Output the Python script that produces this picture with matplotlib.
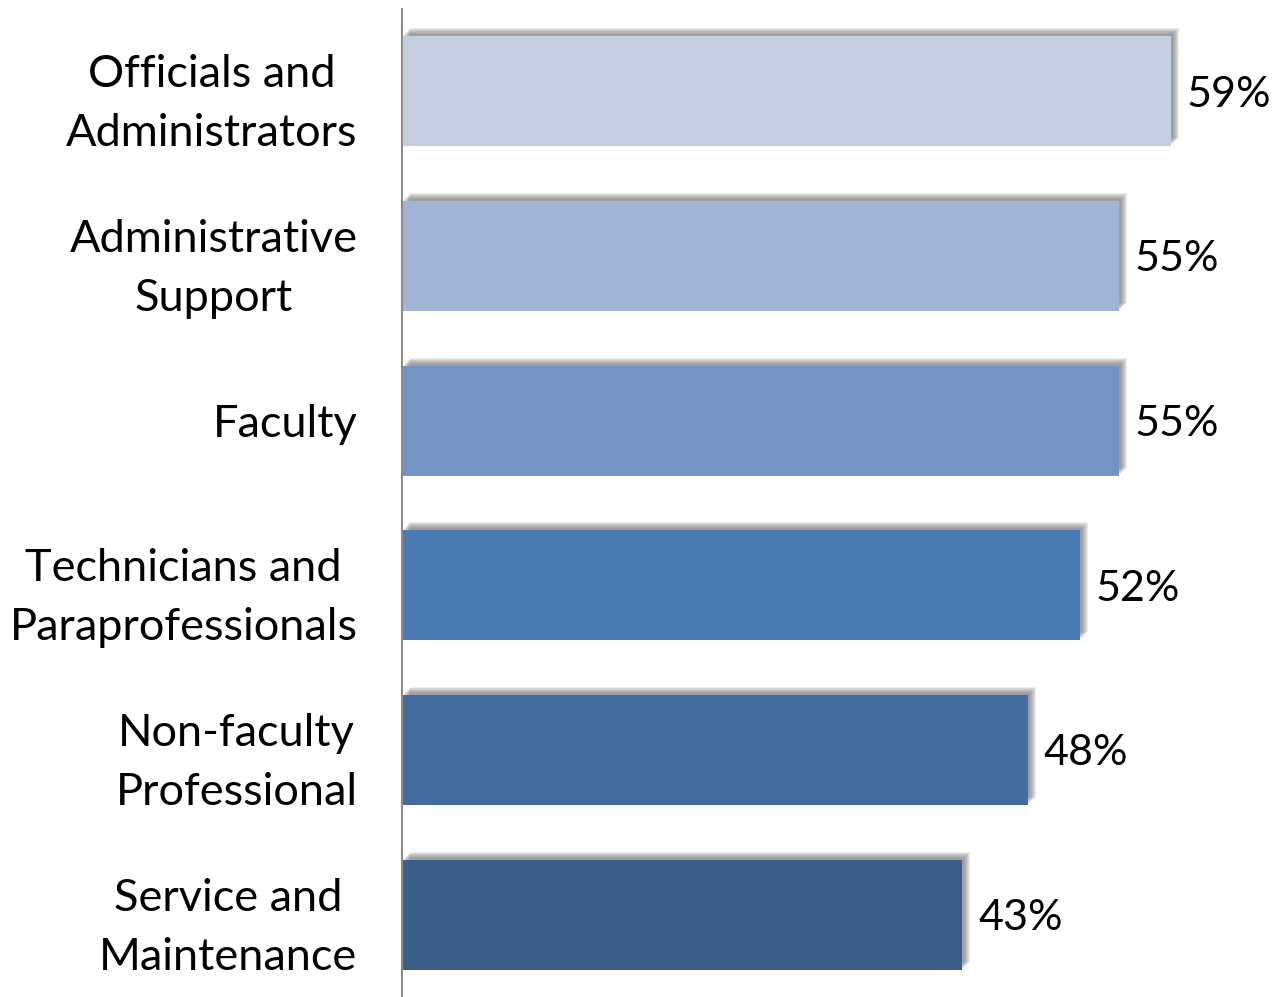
import matplotlib.pyplot as plt
import matplotlib.patheffects as pe

categories = ['Officials and\nAdministrators', 'Administrative\nSupport', 'Faculty',
              'Technicians and\nParaprofessionals', 'Non-faculty\nProfessional',
              'Service and\nMaintenance']
values = [59, 55, 55, 52, 48, 43]
bar_colors = ['#C3CEE2', '#A2B4D4', '#7393C4', '#4A7AB4', '#426C9E', '#3A5F8B']

plt.rcParams['font.family'] = ['Lato', 'DejaVu Sans']

fig = plt.figure(figsize=(12.74, 9.97), dpi=100)
ax = fig.add_axes([402 / 1274, 0.0, 1 - 402 / 1274, 1 - 9 / 997])

#soft grey shadow up and to the right of each bar
shadow = []
for k in range(2, 9):
    off = k * 0.72
    shadow.append(pe.SimplePatchShadow(offset=(off, off), shadow_rgbFace='#666666', alpha=0.13))
shadow.append(pe.Normal())

ypos = list(range(len(categories)))
bars = ax.barh(ypos, values, height=0.67, color=bar_colors, linewidth=0)
for b in bars:
    b.set_path_effects(shadow)

for y, v in zip(ypos, values):
    ax.text(v + 1.2, y + 0.02, f'{v}%', va='center', ha='left', fontsize=31, color='black')

ax.set_xlim(0, 66.9)
ax.set_ylim(5.5, -0.5)
ax.set_yticks(ypos)
ax.set_yticklabels(categories, fontsize=32.5, multialignment='center', linespacing=1.55)
ax.tick_params(axis='y', length=0, pad=32)
ax.set_xticks([])

for s in ['top', 'right', 'bottom']:
    ax.spines[s].set_visible(False)
ax.spines['left'].set_color('#8c8c8c')
ax.spines['left'].set_linewidth(1.5)

fig.savefig('out.png', dpi=100)
